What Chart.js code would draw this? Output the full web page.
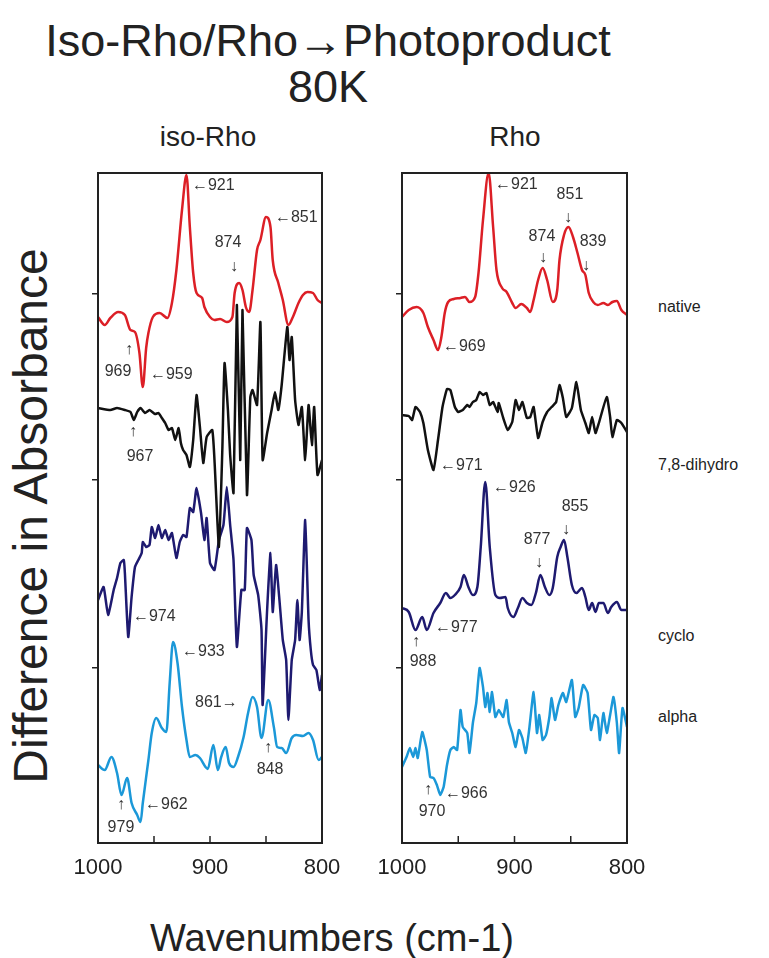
<!DOCTYPE html>
<html lang="en">
<head>
<meta charset="UTF-8">
<title>Iso-Rho/Rho→Photoproduct 80K</title>
<style>
    body {
        margin: 0;
        width: 769px;
        height: 958px;
        background: #fff;
        position: relative;
        overflow: hidden;
        font-family: Arial, "Liberation Sans", sans-serif;
        color: #222;
    }
    .txt { position: absolute; white-space: nowrap; }
    #title { left: 0; width: 656px; top: 18px; text-align: center; font-size: 45px; line-height: 46px; }
    .panelTitle { width: 200px; text-align: center; top: 121px; font-size: 28px; line-height: 32px; }
    .series { left: 658px; font-size: 16px; line-height: 20px; }
    #ylab { left: 30px; top: 516px; font-size: 48px; transform: translate(-50%, -50%) rotate(-90deg); }
    #xlab { left: 332px; top: 938px; font-size: 38px; transform: translate(-50%, -50%); }
    canvas { position: absolute; top: 160px; }
</style>
<script src="https://cdn.jsdelivr.net/npm/chart.js"></script>
</head>
<body>
<div id="title" class="txt">Iso-Rho/Rho→Photoproduct<br>80K</div>
<div class="txt panelTitle" style="left:108px">iso-Rho</div>
<div class="txt panelTitle" style="left:415px">Rho</div>
<div id="seriesLabels"></div>
<div id="ylab" class="txt">Difference in Absorbance</div>
<div id="xlab" class="txt">Wavenumbers (cm-1)</div>
<canvas id="isoChart" width="300" height="720" style="left:58px"></canvas>
<canvas id="rhoChart" width="300" height="720" style="left:362px"></canvas>

<script>
    // x axis: wavenumbers, reversed 1000 -> 800
    const xTickLabels = [1000, 900, 800];
    const xMinorTicks = [1000, 950, 900, 850, 800];
    // unlabelled y ticks (arbitrary absorbance units, traces offset)
    const yTickValues = [17.5, 36.3, 54.9];

    const seriesNames = ['native', '7,8-dihydro', 'cyclo', 'alpha'];
    const seriesColors = ['#dc1f26', '#111111', '#1e1a70', '#1b98d8'];

    // ---- iso-Rho ----
    const isoNativeWn = [1000,994,989,982,976,971,967,963,960,957,955,951,945,938,934,930,925,921,918,915,912,907,905,900,896,891,885,880,878,874,871,868,865,862,858,855,850,846,844,839,835,830,826,821,817,813,808,804,800];
    const isoNativeAbs = [52.6,51.8,52.5,53.1,52.8,51.3,51.1,49.0,45.6,49.5,51.0,52.6,53.0,52.5,54.0,57.3,63.3,66.8,61.6,57.0,55.0,54.5,53.6,52.6,52.3,52.4,52.1,52.6,55.0,56.0,55.3,53.6,53.1,55.3,59.3,60.3,62.6,61.6,58.3,56.0,54.3,51.8,52.6,54.0,54.8,55.1,55.0,54.3,54.0];

    const isoDihydroWn = [1000,989,983,976,971,968,965,962,958,954,949,946,943,940,937,934,931,928,926,924,921,918,915,912,909,906,903,898,896,892,889,887,884,882,879,876,873,871,867,864,862,858,855,853,849,845,842,839,836,831,829,827,824,821,818,815,812,809,807,804,800];
    const isoDihydroAbs = [43.5,43.3,43.5,43.3,43.1,42.3,43.1,43.5,43.0,43.3,42.9,43.0,42.5,42.0,41.3,41.5,40.3,41.5,40.0,39.3,38.8,37.6,40.3,44.8,41.6,38.0,40.6,41.3,38.3,29.6,39.3,48.0,43.3,38.8,35.0,53.8,38.3,53.3,34.8,44.6,45.3,43.8,52.1,38.3,41.0,43.3,45.1,43.3,45.8,51.6,48.3,50.6,44.3,41.8,43.6,38.3,43.8,39.8,43.6,36.8,38.3];

    const isoCycloWn = [1000,995,991,986,983,980,977,976,973,970,967,964,961,960,957,954,952,949,946,943,940,937,934,930,927,924,921,918,915,912,908,905,903,900,896,892,888,885,882,879,876,872,869,867,863,861,857,854,853,849,846,844,841,838,835,832,830,827,824,822,820,818,815,812,810,808,805,802,800];
    const isoCycloAbs = [24.3,25.6,22.8,25.3,26.5,28.0,28.3,27.0,20.6,24.6,27.6,28.3,29.0,30.1,29.6,29.8,31.6,30.5,31.8,30.5,31.3,30.3,31.0,28.5,30.1,30.8,30.6,33.5,33.1,35.5,33.0,30.3,32.5,28.0,27.3,30.3,31.8,35.6,31.8,28.3,19.6,25.3,25.3,31.5,30.3,26.8,24.8,21.3,13.8,23.3,29.0,23.1,27.8,24.3,20.3,18.3,12.3,18.3,20.3,24.3,20.3,23.1,32.3,22.3,19.3,17.8,17.3,15.3,16.8];

    const isoAlphaWn = [1000,994,988,983,979,974,970,965,962,960,955,952,948,943,939,936,933,929,925,921,918,913,909,904,902,897,893,890,886,883,879,875,870,866,862,858,854,848,843,840,836,832,827,823,817,812,808,803,800];
    const isoAlphaAbs = [7.8,7.3,8.6,7.0,4.8,6.5,4.0,2.8,2.1,4.0,8.3,11.0,12.5,11.5,11.1,16.0,20.1,18.0,13.6,10.3,8.6,8.8,8.5,7.6,7.4,9.8,7.3,8.6,9.6,8.0,7.6,8.6,10.6,13.0,14.6,13.6,10.5,14.3,11.6,9.6,9.5,9.0,10.5,10.8,10.7,11.0,10.3,8.3,8.6];

    // ---- Rho ----
    const rhoNativeWn = [1000,994,987,981,977,972,968,965,962,959,954,948,944,940,935,932,928,923,919,916,911,907,902,899,894,889,886,883,879,875,871,866,862,860,856,852,848,844,840,837,834,830,826,821,817,813,809,805,800];
    const rhoNativeAbs = [52.6,53.3,53.6,53.0,51.6,50.3,49.3,50.6,53.0,54.1,54.4,54.5,54.6,54.1,54.6,57.0,62.3,67.0,61.6,57.3,55.5,55.1,54.0,53.5,53.9,53.5,53.1,54.3,56.3,57.5,56.3,54.1,55.3,58.3,60.8,61.6,60.6,59.0,57.3,56.8,55.0,54.1,53.8,54.0,53.8,54.1,54.2,53.3,52.8];

    const rhoDihydroWn = [1000,994,991,988,984,981,977,972,968,964,960,957,953,950,946,942,940,937,934,931,928,925,922,919,915,914,910,906,902,899,896,893,889,886,883,879,875,871,867,863,860,857,854,849,845,841,837,834,831,828,825,818,815,813,809,805,800];
    const rhoDihydroAbs = [42.8,42.7,42.3,43.6,43.1,42.0,39.3,37.3,40.3,43.6,45.4,45.3,43.6,43.1,43.3,43.8,43.6,44.1,44.3,45.1,44.8,45.0,43.8,44.1,43.1,44.0,42.5,41.3,42.1,44.3,43.3,44.1,42.5,42.6,43.6,40.5,42.1,43.1,43.6,44.1,45.8,44.5,42.6,43.5,46.1,43.3,42.0,41.0,42.6,41.0,42.0,44.6,42.6,40.6,42.3,42.0,41.1];

    const rhoCycloWn = [1000,994,988,982,978,972,966,961,957,953,948,945,941,937,933,930,926,922,917,913,908,906,901,897,893,889,885,881,877,873,869,866,862,859,856,853,849,845,840,837,834,831,828,825,821,817,814,809,805,800];
    const rhoCycloAbs = [23.5,23.1,21.3,22.6,21.3,23.0,24.0,25.0,24.5,24.8,25.6,26.8,25.6,24.8,25.6,29.6,36.1,29.6,24.8,24.5,24.6,23.5,22.6,23.5,24.5,24.0,23.8,25.0,26.8,25.6,24.8,25.5,28.6,29.6,30.3,28.6,25.8,25.0,25.5,24.6,23.3,24.0,23.1,24.0,24.0,23.0,23.6,24.1,23.3,23.3];

    const rhoAlphaWn = [1000,996,993,990,988,986,982,978,975,972,969,966,963,960,957,954,951,948,946,942,940,937,934,931,928,926,924,922,920,917,914,910,907,905,902,899,896,893,890,887,883,880,878,875,872,869,867,864,861,857,854,849,846,843,839,835,832,829,826,824,821,818,815,812,809,807,804,800];
    const rhoAlphaAbs = [7.6,8.6,9.5,8.6,9.5,8.5,11.1,9.3,6.6,6.5,5.8,4.8,5.6,7.8,9.3,9.6,9.3,13.3,11.6,11.0,9.0,12.0,14.0,17.5,15.6,13.6,15.0,13.1,15.1,12.6,13.3,12.6,14.3,12.1,11.0,9.6,11.3,10.5,9.0,11.3,15.1,11.0,12.8,10.3,10.8,12.6,14.5,12.3,13.8,15.0,14.1,16.3,12.6,13.5,15.8,15.0,11.3,12.8,12.5,10.3,13.0,11.0,12.8,14.6,12.0,9.0,13.5,11.6];

    // peak labels (text, wavenumber, absorbance, alignment)
    const isoNotes = [
        ['←921', 916.1, 65.7, 'left'], ['←851', 842.0, 62.5, 'left'],
        ['874', 883.9, 60.0, 'center'], ['↓', 878.6, 57.6, 'center'],
        ['↑', 972.3, 49.3, 'center'], ['969', 982.1, 47.1, 'center'], ['←959', 953.6, 46.8, 'left'],
        ['↑', 968.8, 41.1, 'center'], ['967', 962.5, 38.6, 'center'],
        ['←974', 968.8, 22.6, 'left'], ['←933', 925.0, 19.1, 'left'],
        ['861→', 913.4, 14.0, 'left'], ['↑', 848.2, 9.5, 'center'], ['848', 846.4, 7.3, 'center'],
        ['↑', 979.5, 3.8, 'center'], ['979', 979.5, 1.5, 'center'], ['←962', 958.0, 3.8, 'left']
    ];
    const rhoNotes = [
        ['←921', 917.3, 65.8, 'left'], ['851', 850.7, 64.8, 'center'], ['↓', 852.4, 62.5, 'center'],
        ['874', 875.6, 60.6, 'center'], ['↓', 874.7, 58.5, 'center'],
        ['839', 830.2, 60.1, 'center'], ['↓', 836.4, 57.7, 'center'],
        ['←969', 963.6, 49.6, 'left'], ['←971', 966.2, 37.7, 'left'],
        ['←926', 919.1, 35.5, 'left'], ['855', 846.2, 33.6, 'center'], ['↓', 854.2, 31.3, 'center'],
        ['877', 880.0, 30.3, 'center'], ['↓', 878.2, 28.0, 'center'],
        ['←977', 970.7, 21.5, 'left'], ['↑', 987.6, 20.1, 'center'], ['988', 981.3, 18.1, 'center'],
        ['↑', 976.9, 5.3, 'center'], ['970', 973.3, 3.1, 'center'], ['←966', 961.8, 4.9, 'left']
    ];

    // right hand series labels
    const seriesLabelTops = [297, 455, 626, 707];
    seriesNames.forEach((name, i) => {
        const d = document.createElement('div');
        d.className = 'txt series';
        d.style.top = seriesLabelTops[i] + 'px';
        d.textContent = name;
        document.getElementById('seriesLabels').appendChild(d);
    });

    const FONT = 'Arial, "Liberation Sans", sans-serif';
    Chart.defaults.font.family = FONT;
    Chart.defaults.color = '#222';

    function toPoints(wn, abs) {
        return wn.map((w, i) => ({ x: w, y: abs[i] }));
    }

    // frame, inward x ticks and peak labels
    const panelDecor = {
        id: 'panelDecor',
        afterDatasetsDraw(chart, args, opts) {
            const { ctx, chartArea: a, scales: { x, y } } = chart;
            ctx.save();
            ctx.strokeStyle = '#222';
            ctx.lineWidth = 2;
            ctx.strokeRect(a.left, a.top, a.width, a.height);
            ctx.lineWidth = 1.5;
            xMinorTicks.forEach(v => {
                const px = x.getPixelForValue(v);
                ctx.beginPath();
                ctx.moveTo(px, a.bottom);
                ctx.lineTo(px, a.bottom - 7);
                ctx.stroke();
            });
            ctx.fillStyle = '#333';
            ctx.font = '16px ' + FONT;
            ctx.textBaseline = 'middle';
            opts.notes.forEach(([t, wn, ab, align]) => {
                ctx.textAlign = align;
                ctx.fillText(t, x.getPixelForValue(wn), y.getPixelForValue(ab));
            });
            ctx.restore();
        }
    };

    function makePanel(id, traces, notes, padRight, smooth) {
        const datasets = traces.map((tr, i) => ({
            label: seriesNames[i],
            data: toPoints(tr[0], tr[1]),
            borderColor: seriesColors[i],
            borderWidth: 2.5,
            pointRadius: 0,
            fill: false,
            cubicInterpolationMode: smooth[i] ? 'monotone' : 'default',
            tension: smooth[i] ? 0 : 0.15
        }));
        return new Chart(document.getElementById(id), {
            type: 'line',
            data: { datasets },
            plugins: [panelDecor],
            options: {
                responsive: false,
                animation: false,
                layout: { padding: { top: 13, right: padRight, left: 0, bottom: 0 } },
                scales: {
                    x: {
                        type: 'linear',
                        min: 800, max: 1000, reverse: true,
                        afterBuildTicks: ax => { ax.ticks = xTickLabels.map(v => ({ value: v })); },
                        afterFit: ax => { ax.height = 37; },
                        grid: { display: false },
                        border: { display: false },
                        ticks: {
                            callback: v => String(v),
                            autoSkip: false, maxRotation: 0,
                            padding: 4,
                            font: { size: 22 }, color: '#222'
                        }
                    },
                    y: {
                        min: 0, max: 67,
                        afterBuildTicks: ax => { ax.ticks = yTickValues.map(v => ({ value: v })); },
                        afterFit: ax => { ax.width = 40; },
                        grid: { display: true, drawOnChartArea: false, drawTicks: true, tickLength: 6, color: '#222', lineWidth: 1.5 },
                        border: { display: true, color: '#222', width: 2 },
                        ticks: { display: false }
                    }
                },
                plugins: {
                    legend: { display: false },
                    tooltip: { enabled: false },
                    panelDecor: { notes }
                }
            }
        });
    }

    makePanel('isoChart', [
        [isoNativeWn, isoNativeAbs],
        [isoDihydroWn, isoDihydroAbs],
        [isoCycloWn, isoCycloAbs],
        [isoAlphaWn, isoAlphaAbs]
    ], isoNotes, 36, [true, false, false, true]);

    makePanel('rhoChart', [
        [rhoNativeWn, rhoNativeAbs],
        [rhoDihydroWn, rhoDihydroAbs],
        [rhoCycloWn, rhoCycloAbs],
        [rhoAlphaWn, rhoAlphaAbs]
    ], rhoNotes, 35, [true, false, true, false]);
</script>
</body>
</html>
